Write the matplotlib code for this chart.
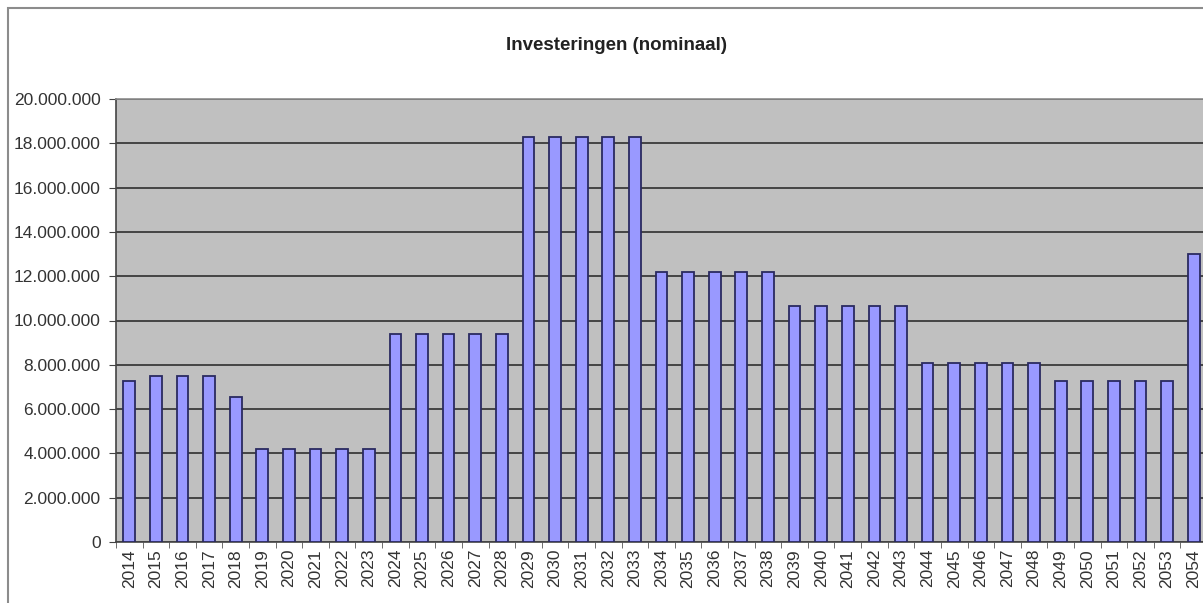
import matplotlib
matplotlib.use("Agg")
import matplotlib.pyplot as plt
from matplotlib.patches import Rectangle
from matplotlib.ticker import FixedLocator, FuncFormatter

years = [str(y) for y in range(2014, 2055)]
values = [7250000, 7500000, 7500000, 7500000, 6550000,
          4200000, 4200000, 4200000, 4200000, 4200000,
          9400000, 9400000, 9400000, 9400000, 9400000,
          18300000, 18300000, 18300000, 18300000, 18300000,
          12200000, 12200000, 12200000, 12200000, 12200000,
          10650000, 10650000, 10650000, 10650000, 10650000,
          8100000, 8100000, 8100000, 8100000, 8100000,
          7250000, 7250000, 7250000, 7250000, 7250000,
          13000000]
yticks = list(range(0, 20000001, 2000000))
title = "Investeringen (nominaal)"

plt.rcParams['font.family'] = ['Liberation Sans', 'DejaVu Sans']

W, H = 1203, 603
fig = plt.figure(figsize=(W / 100, H / 100), dpi=100)
fig.patch.set_facecolor('white')

# chart-area border
fig.patches.append(Rectangle((8 / W, -0.1), 1.2, (H - 8) / H + 0.1,
                             transform=fig.transFigure, fill=False,
                             edgecolor='#8c8c8c', linewidth=1.5))

left, right, top, bottom = 116, 1207, 99, 542
ax = fig.add_axes([left / W, (H - bottom) / H, (right - left) / W, (bottom - top) / H])
ax.set_facecolor('#C0C0C0')

x = list(range(len(years)))
ax.bar(x, values, width=0.44, color='#9999FF', edgecolor='#2a2a60', linewidth=1.3, zorder=3)

ax.set_xlim(-0.5, len(years) - 0.5)
ax.set_ylim(0, 20000000)
ax.set_yticks(yticks)
ax.yaxis.set_major_formatter(FuncFormatter(lambda v, p: f"{int(v):,}".replace(',', '.')))
ax.grid(axis='y', color='#3a3a3a', linewidth=1.3, zorder=1)
ax.set_axisbelow(True)

ax.set_xticks(x)
ax.set_xticklabels(years, rotation=90, fontsize=12.5)
ax.xaxis.set_minor_locator(FixedLocator([i - 0.5 for i in range(len(years) + 1)]))
ax.tick_params(axis='x', which='major', length=0, pad=5, colors='#333333')
ax.tick_params(axis='x', which='minor', length=4, color='#555555')
ax.tick_params(axis='y', which='major', length=5, color='#444444', labelsize=12.5,
               labelcolor='#333333', pad=6)

for s in ['top', 'right']:
    ax.spines[s].set_color('#8c8c8c')
    ax.spines[s].set_linewidth(1.2)
ax.spines['left'].set_color('#444444')
ax.spines['left'].set_linewidth(1.2)
ax.spines['bottom'].set_color('#444444')
ax.spines['bottom'].set_linewidth(1.2)

fig.text(617 / W, 1 - 45 / H, title, ha='center', va='center',
         fontsize=13.5, fontweight='bold', color='#222222')

fig.savefig('out.png', dpi=100)
